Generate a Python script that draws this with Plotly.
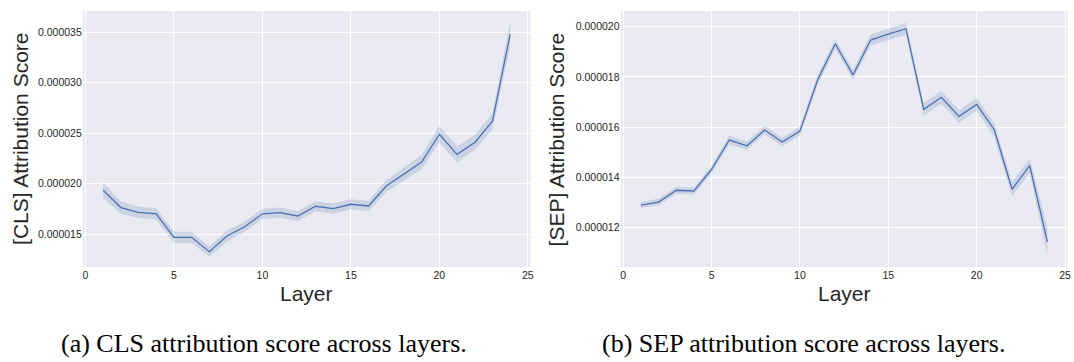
import plotly.graph_objects as go

layers = list(range(1, 25))

cls_mean = [1.933e-5, 1.762e-5, 1.715e-5, 1.700e-5, 1.467e-5, 1.467e-5, 1.325e-5, 1.480e-5,
            1.572e-5, 1.700e-5, 1.712e-5, 1.679e-5, 1.775e-5, 1.752e-5, 1.795e-5, 1.778e-5,
            1.976e-5, 2.092e-5, 2.214e-5, 2.489e-5, 2.290e-5, 2.407e-5, 2.618e-5, 3.480e-5]
cls_halfwidth = [0.75e-6, 0.6e-6, 0.55e-6, 0.55e-6, 0.55e-6, 0.55e-6, 0.5e-6, 0.55e-6,
                 0.5e-6, 0.5e-6, 0.5e-6, 0.5e-6, 0.5e-6, 0.5e-6, 0.5e-6, 0.5e-6,
                 0.6e-6, 0.65e-6, 0.7e-6, 0.8e-6, 0.8e-6, 0.75e-6, 0.8e-6, 1.2e-6]

sep_mean = [1.290e-5, 1.302e-5, 1.349e-5, 1.346e-5, 1.432e-5, 1.549e-5, 1.526e-5, 1.589e-5,
            1.541e-5, 1.585e-5, 1.788e-5, 1.932e-5, 1.808e-5, 1.947e-5, 1.970e-5, 1.992e-5,
            1.671e-5, 1.719e-5, 1.643e-5, 1.691e-5, 1.589e-5, 1.353e-5, 1.447e-5, 1.144e-5]
sep_halfwidth = [0.12e-6, 0.13e-6, 0.14e-6, 0.14e-6, 0.15e-6, 0.17e-6, 0.17e-6, 0.17e-6,
                 0.17e-6, 0.17e-6, 0.2e-6, 0.2e-6, 0.2e-6, 0.22e-6, 0.22e-6, 0.24e-6,
                 0.25e-6, 0.25e-6, 0.25e-6, 0.25e-6, 0.27e-6, 0.29e-6, 0.29e-6, 0.55e-6]

x_ticks = [0, 5, 10, 15, 20, 25]
cls_yticks = [1.5e-5, 2.0e-5, 2.5e-5, 3.0e-5, 3.5e-5]
sep_yticks = [1.2e-5, 1.4e-5, 1.6e-5, 1.8e-5, 2.0e-5]

y_titles = ["[CLS] Attribution Score", "[SEP] Attribution Score"]
x_title = "Layer"
captions = ["(a) CLS attribution score across layers.", "(b) SEP attribution score across layers."]

LINE = "#4C72B0"
BAND = "rgba(76,114,176,0.2)"
BG = "#EAEAF2"
TXT = "#262626"

fig = go.Figure()

def add_series(mean, hw, xa, ya):
    upper = [m + h for m, h in zip(mean, hw)]
    lower = [m - h for m, h in zip(mean, hw)]
    fig.add_trace(go.Scatter(x=layers + layers[::-1], y=upper + lower[::-1], fill="toself",
                             fillcolor=BAND, line=dict(width=0), mode="lines",
                             hoverinfo="skip", showlegend=False, xaxis=xa, yaxis=ya))
    fig.add_trace(go.Scatter(x=layers, y=mean, mode="lines", line=dict(color=LINE, width=1.3),
                             showlegend=False, xaxis=xa, yaxis=ya))

add_series(cls_mean, cls_halfwidth, "x", "y")
add_series(sep_mean, sep_halfwidth, "x2", "y2")

W, H = 1074, 362
dom1 = [83 / W, 532 / W]
dom2 = [622.3 / W, 1070.7 / W]
ydom = [1 - 267 / H, 1 - 11 / H]

tickfont = dict(family="Liberation Sans, Arial, sans-serif", size=10.5, color=TXT)
xcommon = dict(range=[-0.15, 25.15], tickvals=x_ticks, showgrid=True, gridcolor="white",
               gridwidth=1.2, zeroline=False, showline=False, ticks="", tickfont=tickfont,
               fixedrange=True)
fig.update_layout(
    width=W, height=H, margin=dict(l=0, r=0, t=0, b=0),
    paper_bgcolor="white", plot_bgcolor=BG,
    xaxis=dict(domain=dom1, anchor="y", **xcommon),
    xaxis2=dict(domain=dom2, anchor="y2", **xcommon),
    yaxis=dict(domain=ydom, anchor="x", range=[1.173e-5, 3.711e-5], tickvals=cls_yticks,
               tickformat=".6f", showgrid=True, gridcolor="white", gridwidth=1.2,
               zeroline=False, showline=False, ticks="", tickfont=tickfont),
    yaxis2=dict(domain=ydom, anchor="x2", range=[1.0436e-5, 2.0625e-5], tickvals=sep_yticks,
                tickformat=".6f", showgrid=True, gridcolor="white", gridwidth=1.2,
                zeroline=False, showline=False, ticks="", tickfont=tickfont),
)

titlefont = dict(family="Liberation Sans, Arial, sans-serif", size=21, color=TXT)
capfont = dict(family="Liberation Serif, Times New Roman, serif", size=26, color="black")

ann = []
for xc, ytc, ytxt, cap, capx in [
    ((83 + 532) / 2, 20, y_titles[0], captions[0], 265),
    ((622.3 + 1070.7) / 2, 558, y_titles[1], captions[1], 806),
]:
    ann.append(dict(x=xc / W, y=1 - 293 / H, xref="paper", yref="paper", text=x_title,
                    showarrow=False, font=titlefont, xanchor="center", yanchor="middle"))
    ann.append(dict(x=ytc / W, y=1 - 139 / H, xref="paper", yref="paper", text=ytxt,
                    showarrow=False, font=titlefont, textangle=-90,
                    xanchor="center", yanchor="middle"))
    ann.append(dict(x=capx / W, y=1 - 343 / H, xref="paper", yref="paper", text=cap,
                    showarrow=False, font=capfont, xanchor="center", yanchor="middle"))
fig.update_layout(annotations=ann)

fig.write_html("out.html")
